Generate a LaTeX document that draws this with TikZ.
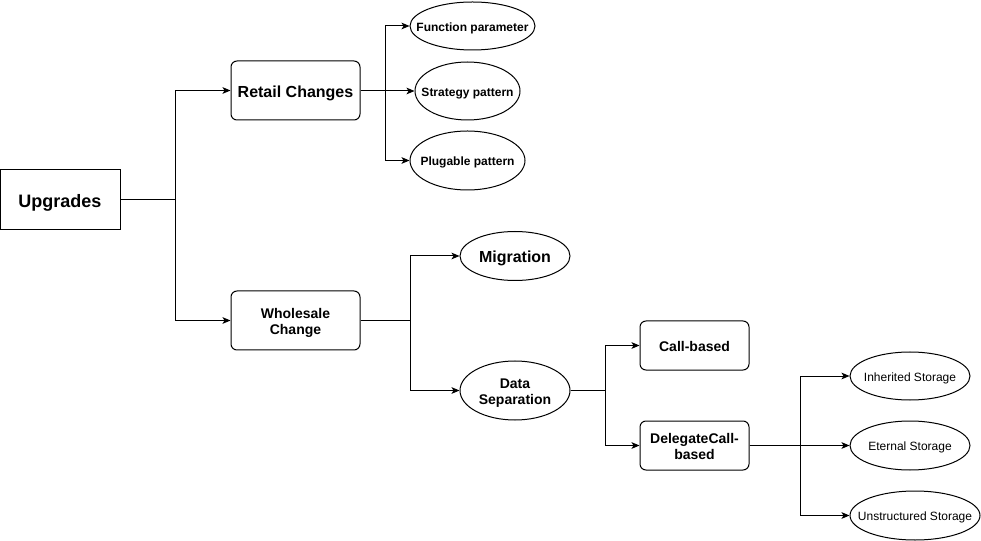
\documentclass[tikz,border=0pt]{standalone}
\usepackage{fontspec}
\setmainfont{Liberation Sans}
\usetikzlibrary{positioning}
\usetikzlibrary{shapes.geometric}
\usetikzlibrary{arrows.meta}

% text of a node, kept out of the shape's size and centred on its caps
\newcommand{\lbl}[1]{\makebox[0pt]{\raisebox{-0.45em}[0pt][0pt]{\begin{tabular}{@{}c@{}}#1\end{tabular}}}}

\begin{document}
\begin{tikzpicture}[x=0.75pt, y=-0.75pt, line width=0.75pt,
    rbox/.style={draw, rectangle, rounded corners=4.5pt, inner sep=0pt,
        font=\bfseries\fontsize{10.5}{12.6}\selectfont},
    oval/.style={draw, ellipse, inner sep=0pt, font=\bfseries\fontsize{9}{11}\selectfont},
    link/.style={-{Stealth[length=6pt, width=5pt, inset=1.5pt]}}]
    \useasboundingbox (0,0) rectangle (981,541);

    % Root
    \node[draw, rectangle, inner sep=0pt, minimum width=90pt, minimum height=45pt,
        font=\bfseries\fontsize{13.5}{16}\selectfont] (up) at (60,200) {\lbl{Upgrades}};

    % Two kinds of change
    \node[rbox, minimum width=96.75pt, minimum height=44.25pt,
        font=\bfseries\fontsize{12}{14}\selectfont] (retail) at (295.5,90.5) {\lbl{Retail Changes}};
    \node[rbox, minimum width=96.75pt, minimum height=44.25pt] (whole) at (295.5,320.5) {\lbl{Wholesale\\Change}};

    % Retail patterns
    \node[oval, minimum width=93.75pt, minimum height=36pt] (fparam) at (472.5,26) {\lbl{Function parameter}};
    \node[oval, minimum width=78.75pt, minimum height=43.5pt] (strat) at (467.5,91) {\lbl{Strategy pattern}};
    \node[oval, minimum width=86.25pt, minimum height=44.25pt] (plug) at (467.5,160.5) {\lbl{Plugable pattern}};

    % Wholesale options
    \node[oval, minimum width=82.5pt, minimum height=36.75pt,
        font=\bfseries\fontsize{12}{14}\selectfont] (migr) at (515,256) {\lbl{Migration}};
    \node[oval, minimum width=82.5pt, minimum height=44.25pt,
        font=\bfseries\fontsize{10.5}{12.6}\selectfont] (dsep) at (515,390.5) {\lbl{Data\\Separation}};

    % Data separation variants
    \node[rbox, minimum width=81.75pt, minimum height=36.75pt] (call) at (694.5,345.5) {\lbl{Call-based}};
    \node[rbox, minimum width=81.75pt, minimum height=36.75pt] (dcall) at (694.5,445.5) {\lbl{DelegateCall-\\based}};

    % Storage schemes
    \node[oval, minimum width=90pt, minimum height=36pt,
        font=\fontsize{9}{11}\selectfont] (inher) at (910,376) {\lbl{Inherited Storage}};
    \node[oval, minimum width=90pt, minimum height=36.75pt,
        font=\fontsize{9}{11}\selectfont] (etern) at (910,445.5) {\lbl{Eternal Storage}};
    \node[oval, minimum width=97.5pt, minimum height=36.75pt,
        font=\fontsize{9}{11}\selectfont] (unstr) at (915,515.5) {\lbl{Unstructured Storage}};

    % Connectors
    \draw[link] (up.east) -- ++(55,0) |- (retail.west);
    \draw[link] (up.east) -- ++(55,0) |- (whole.west);

    \draw[link] (retail.east) -- ++(25,0) |- (fparam.west);
    \draw[link] (retail.east) -- ++(25,0) |- (strat.west);
    \draw[link] (retail.east) -- ++(25,0) |- (plug.west);

    \draw[link] (whole.east) -- ++(50,0) |- (migr.west);
    \draw[link] (whole.east) -- ++(50,0) |- (dsep.west);

    \draw[link] (dsep.east) -- ++(35,0) |- (call.west);
    \draw[link] (dsep.east) -- ++(35,0) |- (dcall.west);

    \draw[link] (dcall.east) -- ++(51,0) |- (inher.west);
    \draw[link] (dcall.east) -- ++(51,0) |- (etern.west);
    \draw[link] (dcall.east) -- ++(51,0) |- (unstr.west);
\end{tikzpicture}
\end{document}
